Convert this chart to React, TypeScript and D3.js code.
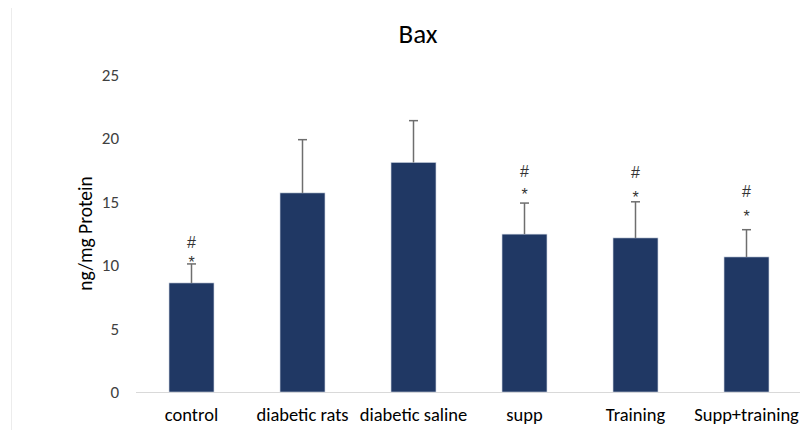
import React, { useEffect, useRef } from 'react';
import * as d3 from 'd3';

const categories = ['control', 'diabetic rats', 'diabetic saline', 'supp', 'Training', 'Supp+training'];
const means = [8.6, 15.7, 18.1, 12.45, 12.15, 10.65];
const errors = [1.5, 4.2, 3.3, 2.45, 2.85, 2.15];
// significance marks, with the value where each mark sits
const hashMarks = ['#', '', '', '#', '#', '#'];
const hashAt = [11.85, 0, 0, 17.4, 17.3, 15.8];
const starMarks = ['*', '', '', '*', '*', '*'];
const starAt = [10.55, 0, 0, 15.9, 15.65, 14.15];
const yTicks = [0, 5, 10, 15, 20, 25];

const App = () => {
  const width = 812,
    height = 430,
    margin = { left: 136, top: 75, bottom: 38, right: 10 };

  const svgRef = useRef<SVGSVGElement>(null);

  useEffect(() => {
    const svg = d3.select(svgRef.current);
    svg.selectAll('*').remove();

    const x = d3.scaleBand()
      .domain(categories)
      .range([margin.left, 802])
      .paddingInner(0.595)
      .paddingOuter(0.2975);
    const y = d3.scaleLinear()
      .domain([0, 25])
      .range([height - margin.bottom, margin.top]);

    const font = 'Carlito, "Open Sans", "Liberation Sans", sans-serif';

    svg.append('rect').attr('width', width).attr('height', height).attr('fill', '#fff');
    svg.append('line')
      .attr('x1', 11.5).attr('x2', 11.5).attr('y1', 8).attr('y2', height)
      .attr('stroke', '#ececec');

    svg.append('text')
      .attr('x', 418).attr('y', 43)
      .attr('text-anchor', 'middle')
      .attr('font-family', font)
      .attr('font-size', 27)
      .attr('fill', '#000')
      .text('Bax');

    // y axis labels
    svg.append('g')
      .attr('transform', `translate(${margin.left - 17},0)`)
      .call(d3.axisLeft(y).tickValues(yTicks).tickSize(0).tickPadding(0))
      .call(g => g.select('.domain').remove())
      .call(g => g.selectAll('text')
        .attr('font-family', font)
        .attr('font-size', 17)
        .attr('fill', '#404040'));

    svg.append('text')
      .attr('transform', `translate(92,${(y(0) + y(25)) / 2}) rotate(-90)`)
      .attr('text-anchor', 'middle')
      .attr('font-family', font)
      .attr('font-size', 19.5)
      .attr('fill', '#000')
      .text('ng/mg Protein');

    // x axis
    svg.append('g')
      .attr('transform', `translate(0,${y(0)})`)
      .call(d3.axisBottom(x).tickSize(0).tickPadding(16))
      .call(g => g.select('.domain').attr('stroke', '#d9d9d9').attr('d', `M${margin.left},0.5H800`))
      .call(g => g.selectAll('text')
        .attr('font-family', font)
        .attr('font-size', 18.5)
        .attr('fill', '#000'));

    const data = categories.map((c, i) => ({ c, m: means[i], e: errors[i], i }));

    svg.append('g')
      .selectAll('rect')
      .data(data)
      .join('rect')
      .attr('x', d => x(d.c)!)
      .attr('y', d => y(d.m))
      .attr('width', x.bandwidth())
      .attr('height', d => y(0) - y(d.m))
      .attr('fill', '#203864')
      .attr('stroke', '#c9d1de')
      .attr('stroke-width', 0.6);

    const err = svg.append('g').attr('stroke', '#6e6e6e').attr('stroke-width', 1.5);
    err.selectAll('line.v')
      .data(data)
      .join('line')
      .attr('class', 'v')
      .attr('x1', d => x(d.c)! + x.bandwidth() / 2)
      .attr('x2', d => x(d.c)! + x.bandwidth() / 2)
      .attr('y1', d => y(d.m))
      .attr('y2', d => y(d.m + d.e));
    err.selectAll('line.h')
      .data(data)
      .join('line')
      .attr('class', 'h')
      .attr('x1', d => x(d.c)! + x.bandwidth() / 2 - 4.5)
      .attr('x2', d => x(d.c)! + x.bandwidth() / 2 + 4.5)
      .attr('y1', d => y(d.m + d.e))
      .attr('y2', d => y(d.m + d.e));

    const marks = svg.append('g')
      .attr('font-family', '"Liberation Sans", Arial, sans-serif')
      .attr('font-size', 16)
      .attr('fill', '#333')
      .attr('text-anchor', 'middle');
    marks.selectAll('text.hash')
      .data(data.filter(d => hashMarks[d.i]))
      .join('text')
      .attr('class', 'hash')
      .attr('x', d => x(d.c)! + x.bandwidth() / 2)
      .attr('y', d => y(hashAt[d.i]))
      .attr('dy', '0.36em')
      .text(d => hashMarks[d.i]);
    marks.selectAll('text.star')
      .data(data.filter(d => starMarks[d.i]))
      .join('text')
      .attr('class', 'star')
      .attr('x', d => x(d.c)! + x.bandwidth() / 2)
      .attr('y', d => y(starAt[d.i]))
      .attr('dy', '0.62em')
      .text(d => starMarks[d.i]);
  }, []);

  return (
    <svg ref={svgRef} width={width} height={height} style={{ position: 'absolute', left: 0, top: 0 }}></svg>
  );
};

export default App;
